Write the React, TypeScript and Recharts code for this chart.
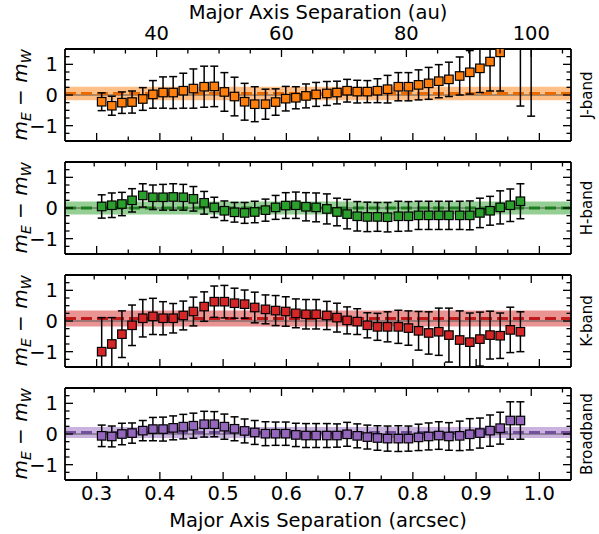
import React from 'react';
import {
  ScatterChart, Scatter, XAxis, YAxis, ErrorBar, ReferenceArea, ReferenceLine,
} from 'recharts';

// separation of each bin (arcsec)
const sepArcsec = [
  0.308, 0.324, 0.340, 0.356, 0.373, 0.389, 0.405, 0.421, 0.437, 0.453,
  0.470, 0.486, 0.502, 0.518, 0.534, 0.550, 0.567, 0.583, 0.599, 0.615,
  0.631, 0.647, 0.664, 0.680, 0.696, 0.712, 0.728, 0.744, 0.760, 0.777,
  0.793, 0.809, 0.825, 0.841, 0.857, 0.874, 0.890, 0.906, 0.922, 0.938,
  0.954, 0.970, 0.987,
];

const jVal = [
  -0.22, -0.35, -0.25, -0.23, -0.13, 0.02, 0.08, 0.08, 0.14, 0.21,
  0.27, 0.28, 0.10, -0.05, -0.22, -0.30, -0.30, -0.23, -0.12, -0.09,
  -0.03, 0.02, 0.05, 0.08, 0.14, 0.11, 0.11, 0.14, 0.19, 0.27,
  0.27, 0.33, 0.38, 0.45, 0.51, 0.62, 0.74, 0.87, 1.09, 1.39,
  null, 2.0, 2.4,
];
const jErr = [
  0.29, 0.31, 0.35, 0.36, 0.37, 0.45, 0.51, 0.52, 0.57, 0.64,
  0.67, 0.66, 0.63, 0.63, 0.60, 0.57, 0.49, 0.43, 0.40, 0.36,
  0.39, 0.39, 0.39, 0.37, 0.37, 0.37, 0.36, 0.39, 0.45, 0.46,
  0.46, 0.49, 0.52, 0.54, 0.56, 0.62, 0.71, 0.79, 0.96, 1.26,
  null, 2.36, 3.09,
];

const hVal = [
  0.05, 0.09, 0.13, 0.25, 0.41, 0.35, 0.35, 0.36, 0.35, 0.30,
  0.17, 0.02, -0.09, -0.14, -0.16, -0.13, -0.07, 0.02, 0.08, 0.09,
  0.04, 0.02, -0.03, -0.13, -0.20, -0.27, -0.29, -0.29, -0.30, -0.27,
  -0.27, -0.24, -0.24, -0.24, -0.24, -0.24, -0.24, -0.16, -0.09, 0.02,
  0.09, 0.22, null,
];
const hErr = [
  0.38, 0.40, 0.38, 0.38, 0.38, 0.40, 0.42, 0.43, 0.42, 0.40,
  0.37, 0.33, 0.32, 0.32, 0.34, 0.35, 0.36, 0.39, 0.42, 0.43,
  0.46, 0.47, 0.49, 0.45, 0.48, 0.48, 0.48, 0.47, 0.48, 0.49,
  0.48, 0.46, 0.46, 0.46, 0.46, 0.46, 0.47, 0.48, 0.47, 0.54,
  0.53, 0.57, null,
];

const kVal = [
  -1.0, -0.75, -0.43, -0.14, 0.09, 0.15, 0.09, 0.09, 0.18, 0.31,
  0.47, 0.63, 0.63, 0.58, 0.55, 0.44, 0.38, 0.34, 0.31, 0.25,
  0.22, 0.22, 0.18, 0.11, 0.02, -0.02, -0.14, -0.19, -0.19, -0.19,
  -0.23, -0.32, -0.39, -0.35, -0.46, -0.62, -0.69, -0.59, -0.46, -0.48,
  -0.29, -0.35, null,
];
const kErr = [
  1.11, 0.86, 0.76, 0.66, 0.61, 0.59, 0.54, 0.48, 0.47, 0.47,
  0.48, 0.51, 0.53, 0.49, 0.46, 0.50, 0.47, 0.49, 0.48, 0.47,
  0.48, 0.48, 0.46, 0.47, 0.44, 0.42, 0.41, 0.44, 0.49, 0.54,
  0.56, 0.63, 0.69, 0.77, 0.88, 0.95, 0.95, 0.88, 0.78, 0.74,
  0.74, 0.65, null,
];

const bbVal = [
  -0.06, -0.08, 0.0, 0.03, 0.11, 0.16, 0.16, 0.20, 0.24, 0.27,
  0.32, 0.32, 0.24, 0.17, 0.10, 0.05, 0.01, 0.01, 0.01, -0.03,
  -0.05, -0.05, -0.05, -0.05, -0.01, -0.06, -0.10, -0.13, -0.15, -0.15,
  -0.15, -0.11, -0.08, -0.05, -0.08, -0.06, -0.01, 0.03, 0.11, 0.19,
  0.44, 0.44, null,
];
const bbErr = [
  0.35, 0.34, 0.35, 0.33, 0.33, 0.38, 0.39, 0.39, 0.40, 0.41,
  0.42, 0.41, 0.41, 0.39, 0.39, 0.39, 0.39, 0.38, 0.38, 0.38,
  0.39, 0.39, 0.39, 0.38, 0.39, 0.39, 0.39, 0.40, 0.41, 0.42,
  0.41, 0.43, 0.44, 0.45, 0.45, 0.48, 0.51, 0.49, 0.51, 0.52,
  0.61, 0.61, null,
];

const bandNames = ['J-band', 'H-band', 'K-band', 'Broadband'];
const bandColors = ['#ff7f0e', '#2ca02c', '#d62728', '#9467bd'];
const meanColors = ['#e86a00', '#1d7f1d', '#c01a1a', '#74509c'];
const bandMean = [0.05, 0.0, 0.08, 0.05];
const bandSd = [0.22, 0.21, 0.26, 0.18];

const arcsecTicks = [0.3, 0.35, 0.4, 0.45, 0.5, 0.55, 0.6, 0.65, 0.7, 0.75, 0.8, 0.85, 0.9, 0.95, 1.0];
const auTicks = [30, 35, 40, 45, 50, 55, 60, 65, 70, 75, 80, 85, 90, 95, 100, 105];
const magTicks = [-1.25, -1, -0.75, -0.5, -0.25, 0, 0.25, 0.5, 0.75, 1, 1.25];

const DIST_PC = 101.3;
const FONT = '"DejaVu Sans", sans-serif';
const FS = 19.5;
const W = 599;
const H = 534;
const LEFT = 65;
const RIGHT = 28;
const PANEL_H = 92;
const panelTops = [49, 162, 275, 388];

const series = [
  { val: jVal, err: jErr },
  { val: hVal, err: hErr },
  { val: kVal, err: kErr },
  { val: bbVal, err: bbErr },
];

const fmtMinus = (v: number) => (v < 0 ? '\u2212' : '') + Math.abs(v).toString();

const BottomTick = ({ x, y, payload, show }: any) => {
  const v = payload.value;
  const major = Math.abs(v * 10 - Math.round(v * 10)) < 1e-6;
  return (
    <g>
      <line x1={x} x2={x} y1={y} y2={y - (major ? 8 : 4.5)} stroke="#000" strokeWidth={1.3} />
      {show && major && (
        <text x={x} y={y + 20} textAnchor="middle" fontFamily={FONT} fontSize={FS} fill="#000">
          {v.toFixed(1)}
        </text>
      )}
    </g>
  );
};

const TopTick = ({ x, y, payload, show }: any) => {
  const au = Math.round(payload.value * DIST_PC);
  const major = au % 20 === 0;
  return (
    <g>
      <line x1={x} x2={x} y1={y} y2={y + (major ? 8 : 4.5)} stroke="#000" strokeWidth={1.3} />
      {show && major && (
        <text x={x} y={y - 9} textAnchor="middle" fontFamily={FONT} fontSize={FS} fill="#000">
          {au}
        </text>
      )}
    </g>
  );
};

const LeftTick = ({ x, y, payload }: any) => {
  const v = payload.value;
  const major = Number.isInteger(v);
  return (
    <g>
      <line x1={x} x2={x + (major ? 8 : 4.5)} y1={y} y2={y} stroke="#000" strokeWidth={1.3} />
      {major && (
        <text x={x - 7} y={y + 7} textAnchor="end" fontFamily={FONT} fontSize={FS} fill="#000">
          {fmtMinus(v)}
        </text>
      )}
    </g>
  );
};

const RightTick = ({ x, y, payload }: any) => {
  const major = Number.isInteger(payload.value);
  return <line x1={x} x2={x - (major ? 8 : 4.5)} y1={y} y2={y} stroke="#000" strokeWidth={1.3} />;
};

const Square = ({ cx, cy, fill }: any) => (
  <rect x={cx - 4.25} y={cy - 4.25} width={8.5} height={8.5} fill={fill} stroke="#000" strokeWidth={1.2} />
);

const frame = { stroke: '#000', strokeWidth: 1.8 };

const Panel = ({ idx }: { idx: number }) => {
  const top = panelTops[idx];
  const { val, err } = series[idx];
  const data = sepArcsec
    .map((s, i) => ({ sep: s, val: val[i], err: err[i] }))
    .filter((d) => d.val != null);
  const isFirst = idx === 0;
  const isLast = idx === panelTops.length - 1;
  // axes get 1px of size (a zero-size axis is not drawn), so margins give that pixel back
  return (
    <div className={`panel-${idx}`} style={{ position: 'absolute', left: 0, top: 0 }}>
      <ScatterChart
        width={W}
        height={H}
        margin={{ top: top - 1, bottom: H - top - PANEL_H - 1, left: LEFT - 1, right: RIGHT - 1 }}
      >
        <XAxis
          xAxisId="b" dataKey="sep" type="number" orientation="bottom"
          domain={[0.25, 1.05]} allowDataOverflow ticks={arcsecTicks} interval={0}
          height={1} tickSize={0} tickMargin={0} tickLine={false} axisLine={frame}
          tick={(p: any) => <BottomTick {...p} show={isLast} />}
        />
        <XAxis
          xAxisId="t" dataKey="sep" type="number" orientation="top"
          domain={[0.25, 1.05]} allowDataOverflow ticks={auTicks.map((a) => a / DIST_PC)} interval={0}
          height={1} tickSize={0} tickMargin={0} tickLine={false} axisLine={frame}
          tick={(p: any) => <TopTick {...p} show={isFirst} />}
        />
        <YAxis
          yAxisId="l" dataKey="val" type="number" orientation="left"
          domain={[-1.5, 1.5]} allowDataOverflow ticks={magTicks} interval={0}
          width={1} tickSize={0} tickMargin={0} tickLine={false} axisLine={frame}
          tick={(p: any) => <LeftTick {...p} />}
        />
        <YAxis
          yAxisId="r" dataKey="val" type="number" orientation="right"
          domain={[-1.5, 1.5]} allowDataOverflow ticks={magTicks} interval={0}
          width={1} tickSize={0} tickMargin={0} tickLine={false} axisLine={frame}
          tick={(p: any) => <RightTick {...p} />}
        />
        <ReferenceArea
          xAxisId="b" yAxisId="l"
          y1={bandMean[idx] - bandSd[idx]} y2={bandMean[idx] + bandSd[idx]}
          fill={bandColors[idx]} fillOpacity={0.5} stroke="none"
        />
        <ReferenceLine xAxisId="b" yAxisId="l" y={0} stroke="#555" strokeWidth={1} />
        <ReferenceLine
          xAxisId="b" yAxisId="l" y={bandMean[idx]}
          stroke={meanColors[idx]} strokeWidth={3} strokeDasharray="11 5"
        />
        <Scatter
          xAxisId="b" yAxisId="l" data={data} dataKey="val"
          fill={bandColors[idx]} shape={<Square />} isAnimationActive={false}
        >
          <ErrorBar dataKey="err" direction="y" width={4} stroke="#000" strokeWidth={1.5} />
        </Scatter>
      </ScatterChart>
    </div>
  );
};

const clipCss = panelTops
  .map((_, i) => `.panel-${i} .recharts-errorBars, .panel-${i} .recharts-errorBar { clip-path: url(#plot-clip-${i}); }`)
  .join('\n');

const App = () => (
  <div style={{ position: 'absolute', left: 0, top: 0, width: W, height: H, background: '#fff' }}>
    <style>{clipCss}</style>
    <svg width={0} height={0} style={{ position: 'absolute' }}>
      <defs>
        {panelTops.map((t, i) => (
          <clipPath key={i} id={`plot-clip-${i}`} clipPathUnits="userSpaceOnUse">
            <rect x={LEFT} y={t} width={W - LEFT - RIGHT} height={PANEL_H} />
          </clipPath>
        ))}
      </defs>
    </svg>
    {panelTops.map((_, i) => <Panel key={i} idx={i} />)}
    <svg width={W} height={H} style={{ position: 'absolute', left: 0, top: 0, pointerEvents: 'none' }}>
      <text x={LEFT + (W - LEFT - RIGHT) / 2} y={19} textAnchor="middle" fontFamily={FONT} fontSize={FS}>
        Major Axis Separation (au)
      </text>
      <text x={LEFT + (W - LEFT - RIGHT) / 2} y={527} textAnchor="middle" fontFamily={FONT} fontSize={FS}>
        Major Axis Separation (arcsec)
      </text>
      {panelTops.map((t, i) => {
        const cy = t + PANEL_H / 2;
        return (
          <g key={i}>
            <text transform={`translate(27, ${cy}) rotate(-90)`} textAnchor="middle" fontFamily={FONT} fontSize={20}>
              <tspan fontStyle="italic">m</tspan>
              <tspan fontStyle="italic" fontSize={14} dy={4}>E</tspan>
              <tspan dy={-4}> {'\u2212'} </tspan>
              <tspan fontStyle="italic">m</tspan>
              <tspan fontStyle="italic" fontSize={14} dy={4}>W</tspan>
            </text>
            <text transform={`translate(592, ${cy}) rotate(-90)`} textAnchor="middle" fontFamily={FONT} fontSize={15}>
              {bandNames[i]}
            </text>
          </g>
        );
      })}
    </svg>
  </div>
);

export default App;
